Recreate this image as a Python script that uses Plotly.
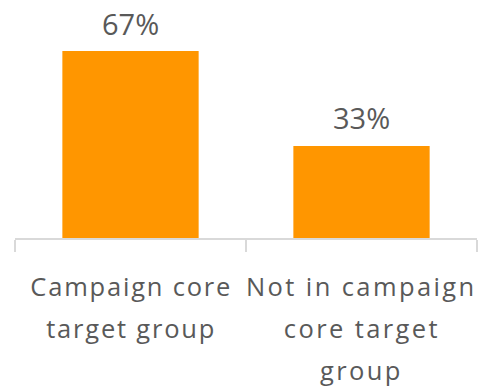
import plotly.graph_objects as go

# Share of respondents by campaign target group
categories = ["Campaign core target group", "Not in campaign core target group"]
label_lines = [["Campaign core", "target group"], ["Not in campaign", "core target", "group"]]
values = [67, 33]
value_labels = ["67%", "33%"]

BAR_COLOR = "#FF9600"
TEXT_COLOR = "#595959"
AXIS_COLOR = "#D9D9D9"
FONT = "Open Sans"

fig = go.Figure(
    go.Bar(
        x=categories,
        y=values,
        marker=dict(color=BAR_COLOR, line=dict(width=0)),
        width=0.59,
        hoverinfo="skip",
    )
)

# Value labels above each bar
for cat, val, lab in zip(categories, values, value_labels):
    fig.add_annotation(
        x=cat, y=val, xref="x", yref="y",
        text=lab, showarrow=False,
        xanchor="center", yanchor="middle", yshift=28,
        font=dict(family=FONT, size=29, color=TEXT_COLOR),
    )

# Multi-line category labels placed under the axis
for cat, lines in zip(categories, label_lines):
    for i, line in enumerate(lines):
        fig.add_annotation(
            x=cat, y=0, xref="x", yref="y",
            text=line, showarrow=False,
            xanchor="center", yanchor="middle",
            yshift=-(48 + 42 * i),
            borderpad=0,
            font=dict(family=FONT, size=25.5, color=TEXT_COLOR),
        )

fig.update_layout(
    width=481, height=388,
    margin=dict(l=15, r=4, t=0, b=150),
    paper_bgcolor="white", plot_bgcolor="white",
    showlegend=False,
    xaxis=dict(
        range=[-0.5, 1.5],
        showticklabels=False,
        showline=True, linecolor=AXIS_COLOR, linewidth=2,
        ticks="outside", tickson="boundaries", ticklen=12,
        tickcolor=AXIS_COLOR, tickwidth=2,
        showgrid=False, zeroline=False,
    ),
    yaxis=dict(range=[0, 85.3], visible=False, showgrid=False, zeroline=False),
)

# Slightly open letter spacing for the category labels
spacing_js = """
var notes = document.querySelectorAll('.annotation-text');
for (var k = 2; k < notes.length; k++) {
    notes[k].style.letterSpacing = k < 4 ? '1.8px' : '2.4px';
}
"""

fig.write_html("out.html", post_script=spacing_js)
